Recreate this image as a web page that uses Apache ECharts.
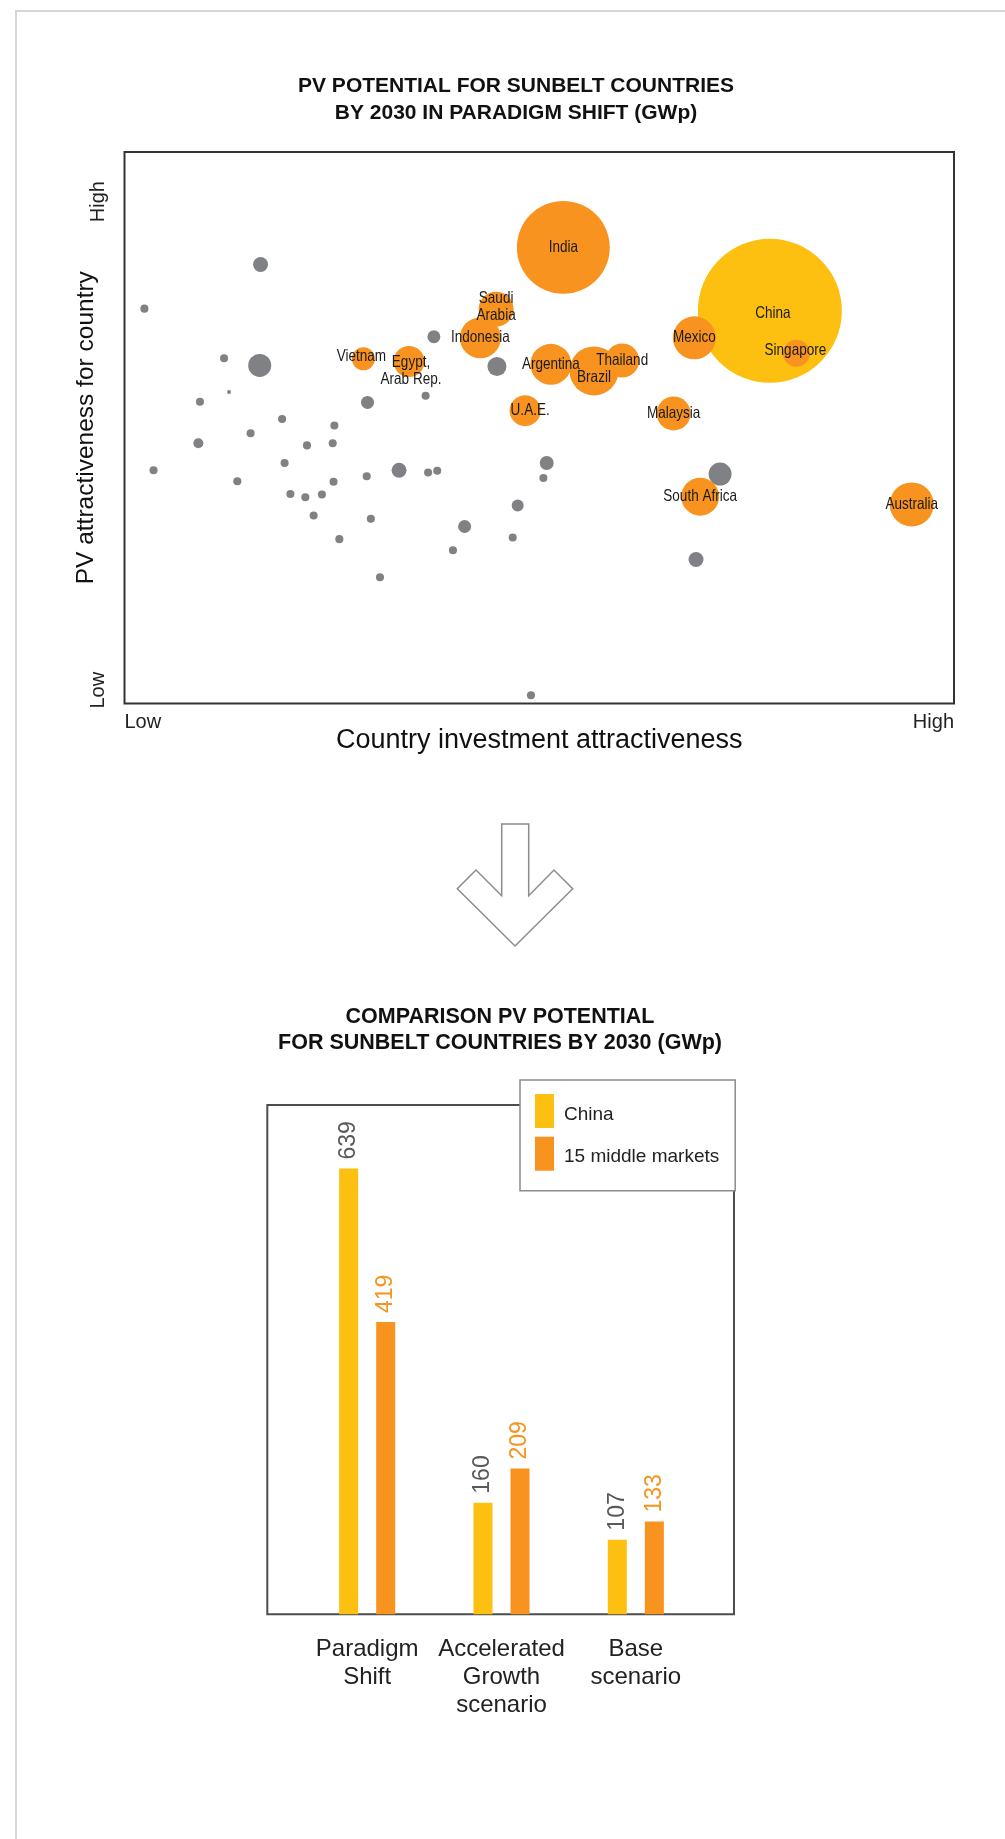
<!DOCTYPE html>
<html>
<head>
<meta charset="utf-8">
<title>PV potential for sunbelt countries by 2030</title>
<script src="https://cdn.jsdelivr.net/npm/echarts@6/dist/echarts.min.js"></script>
<style>
  html, body { margin: 0; padding: 0; background: #fff; overflow: hidden; }
  #frame {
    position: absolute; left: 15px; top: 10px; width: 1200px; height: 2000px;
    border-top: 2px solid #d6d6d6; border-left: 2px solid #d6d6d6;
  }
  #chart { position: absolute; left: 0; top: 0; width: 1005px; height: 1839px; }
</style>
</head>
<body>
<div id="frame"></div>
<div id="chart"></div>
<script>
// ---------- Bubble chart: 0 = low, 100 = high on both axes ----------
// Countries outside the 15 middle markets (unlabelled grey dots)
const otherX = [16.4, 2.4, 12.0, 16.3, 12.6, 9.1, 29.3, 36.3, 19.0, 25.3,
                15.2, 37.3, 44.9, 8.9, 22.0, 25.1, 3.5, 19.3, 13.6, 25.2,
                29.2, 33.1, 36.6, 37.7, 50.9, 50.5, 20.0, 21.8, 23.8, 22.8,
                29.7, 47.4, 41.0, 46.8, 25.9, 39.6, 30.8, 49.0, 71.8, 68.9];
const otherY = [79.6, 71.6, 62.6, 61.3, 56.5, 54.7, 54.6, 55.8, 51.6, 50.4,
                49.0, 66.5, 61.1, 47.2, 46.8, 47.2, 42.3, 43.6, 40.3, 40.2,
                41.2, 42.3, 41.9, 42.2, 43.6, 40.9, 38.0, 37.4, 37.9, 34.1,
                33.5, 35.9, 32.1, 30.1, 29.8, 27.8, 22.9, 1.5, 41.6, 26.1];
const otherPotential = [6.9, 2, 2, 16.3, 0.5, 2, 5.2, 2, 2, 2,
                        2, 5.2, 11.1, 3.1, 2, 2, 2, 2, 2, 2,
                        2, 6.9, 2, 2, 6, 2, 2, 2, 2, 2,
                        2, 4.4, 5.2, 2, 2, 2, 2, 2, 16.3, 6.9];

// China
const chinaName = 'China';
const chinaX = 77.8;
const chinaY = 71.2;
const chinaPotential = 639;

// Middle markets
const marketNames = ['India', 'Saudi\nArabia', 'Indonesia', 'Vietnam', 'Egypt,\nArab Rep.',
                     'Argentina', 'Brazil', 'Thailand', 'U.A.E.', 'Malaysia',
                     'Mexico', 'Singapore', 'South Africa', 'Australia'];
const marketX = [52.9, 44.8, 42.9, 28.8, 34.3, 51.4, 56.6, 60.0, 48.3, 66.2, 68.7, 81.0, 69.4, 94.9];
const marketY = [82.7, 71.5, 66.3, 62.5, 62.0, 61.5, 60.3, 62.2, 53.1, 52.6, 66.3, 63.5, 37.5, 36.1];
const marketPotential = [266, 37.7, 51.8, 16.3, 29.6, 51.8, 74, 35.6, 29.6, 35.6, 57, 22.5, 44.5, 59.7];

// Axis wording
const xAxisTitle = 'Country investment attractiveness';
const yAxisTitle = 'PV attractiveness for country';
const levelLow = 'Low';
const levelHigh = 'High';

// ---------- Bar chart ----------
const scenarios = ['Paradigm\nShift', 'Accelerated\nGrowth\nscenario', 'Base\nscenario'];
const chinaGWp = [639, 160, 107];
const middleGWp = [419, 209, 133];
const barSeriesNames = ['China', '15 middle markets'];

const topTitle = 'PV POTENTIAL FOR SUNBELT COUNTRIES\nBY 2030 IN PARADIGM SHIFT (GWp)';
const bottomTitle = 'COMPARISON PV POTENTIAL\nFOR SUNBELT COUNTRIES BY 2030 (GWp)';

// ---------- styling ----------
const YELLOW = '#fdc010';
const ORANGE = '#f7931e';
const GREY = '#808184';
const SANS = '"Liberation Sans", Arial, Helvetica, sans-serif';

// bubble area is proportional to potential
const bubbleScale = 144 / Math.sqrt(639);
const bubbleSize = (v) => bubbleScale * Math.sqrt(v[2]);

// small nudges for a few bubble labels
const labelNudge = {
  'China': [3, 3],
  'Egypt,\nArab Rep.': [2, 9],
  'Brazil': [0, 7],
  'U.A.E.': [5, 0],
  'Saudi\nArabia': [0, -2],
  'Vietnam': [-2, -2],
  'Singapore': [-1, -3]
};

const otherData = otherX.map((x, i) => [x, otherY[i], otherPotential[i]]);
const marketData = marketNames.map((n, i) => ({ name: n, value: [marketX[i], marketY[i], marketPotential[i]] }));
const chinaData = [{ name: chinaName, value: [chinaX, chinaY, chinaPotential] }];

// bubble labels: one per named country, set in a condensed face
const labelNames = [chinaName].concat(marketNames);
const labelData = [[chinaX, chinaY]].concat(marketX.map((x, i) => [x, marketY[i]]));

function renderBubbleLabel(params, api) {
  const pt = api.coord([api.value(0), api.value(1)]);
  const name = labelNames[params.dataIndex];
  const nudge = labelNudge[name] || [0, 0];
  return {
    type: 'text',
    x: pt[0] + nudge[0],
    y: pt[1] + nudge[1],
    scaleX: 0.82,
    style: {
      text: name, align: 'center', verticalAlign: 'middle',
      font: '16.5px ' + SANS, lineHeight: 17, fill: '#1a1a1a'
    }
  };
}

const chart = echarts.init(document.getElementById('chart'), null, { renderer: 'canvas' });

const option = {
  backgroundColor: 'transparent',
  animation: false,
  textStyle: { fontFamily: SANS },
  graphic: [
    {
      type: 'text', x: 516, y: 73, z: 10,
      style: { text: topTitle, align: 'center', verticalAlign: 'top',
               font: 'bold 21px ' + SANS, lineHeight: 27, fill: '#111' }
    },
    {
      type: 'text', x: 500, y: 1004, z: 10,
      style: { text: bottomTitle, align: 'center', verticalAlign: 'top',
               font: 'bold 21.5px ' + SANS, lineHeight: 26, fill: '#111' }
    },
    // downward arrow between the two charts
    {
      type: 'polygon', z: 10,
      shape: { points: [[501.7, 824], [528.7, 824], [528.7, 895.7], [554, 870], [572.7, 888.7],
                        [515, 946], [457.3, 888.7], [476, 870], [501.7, 895.7]] },
      style: { fill: '#fff', stroke: '#8c8c8c', lineWidth: 1.5 }
    },
    // frame of the bar chart
    {
      type: 'rect', z: 1,
      shape: { x: 267.3, y: 1105, width: 466.7, height: 509.3 },
      style: { fill: 'none', stroke: '#4d4d4d', lineWidth: 2 }
    }
  ],
  legend: {
    data: barSeriesNames,
    orient: 'vertical',
    left: 520, top: 1080,
    padding: [14, 16, 20, 15],
    itemWidth: 19, itemHeight: 34, itemGap: 8.7,
    icon: 'rect',
    backgroundColor: '#fff',
    borderColor: '#8c8c8c', borderWidth: 1.5,
    z: 20,
    selectedMode: false,
    formatter: (name) => '{t|' + name + '}',
    textStyle: {
      fontSize: 19, color: '#222',
      rich: { t: { fontSize: 19, color: '#222', padding: [7, 0, 0, 5] } }
    }
  },
  grid: [
    { left: 124.5, top: 152, width: 829.5, height: 551.5,
      show: true, borderColor: '#333', borderWidth: 2, backgroundColor: 'transparent' },
    { left: 300, top: 1105, width: 403, height: 509.3 }
  ],
  xAxis: [
    {
      gridIndex: 0, type: 'value', min: 0, max: 100, interval: 100,
      axisLine: { show: false }, axisTick: { show: false }, splitLine: { show: false },
      axisLabel: {
        formatter: (v) => (v === 0 ? levelLow : levelHigh),
        alignMinLabel: 'left', alignMaxLabel: 'right',
        fontSize: 20, color: '#222', margin: 9
      },
      name: xAxisTitle, nameLocation: 'middle', nameGap: 24, nameMoveOverlap: false,
      nameTextStyle: { fontSize: 27, color: '#111' }
    },
    {
      gridIndex: 1, type: 'category', data: scenarios,
      axisLine: { show: false }, axisTick: { show: false },
      axisLabel: { interval: 0, fontSize: 24, lineHeight: 28, color: '#222', margin: 21 }
    }
  ],
  yAxis: [
    {
      gridIndex: 0, type: 'value', min: 0, max: 100,
      axisLine: { show: false }, axisTick: { show: false }, splitLine: { show: false },
      axisLabel: {
        customValues: [2.4, 91],
        formatter: (v) => (v < 50 ? levelLow : levelHigh),
        rotate: 90, fontSize: 20, color: '#222', margin: 16
      },
      name: yAxisTitle, nameLocation: 'middle', nameGap: 26, nameRotate: 90, nameMoveOverlap: false,
      nameTextStyle: { fontSize: 24.5, color: '#111' }
    },
    { gridIndex: 1, type: 'value', min: 0, max: 730, show: false }
  ],
  series: [
    {
      name: 'Other sunbelt countries', type: 'scatter',
      xAxisIndex: 0, yAxisIndex: 0,
      data: otherData, symbolSize: bubbleSize,
      itemStyle: { color: GREY, opacity: 1 }, silent: true
    },
    {
      name: 'China potential', type: 'scatter',
      xAxisIndex: 0, yAxisIndex: 0,
      data: chinaData, symbolSize: bubbleSize,
      itemStyle: { color: YELLOW, opacity: 1 }, silent: true
    },
    {
      name: 'Middle market potential', type: 'scatter',
      xAxisIndex: 0, yAxisIndex: 0,
      data: marketData, symbolSize: bubbleSize,
      itemStyle: { color: ORANGE, opacity: 1 }, silent: true
    },
    {
      name: 'Country names', type: 'custom',
      xAxisIndex: 0, yAxisIndex: 0, z: 5, silent: true,
      data: labelData, renderItem: renderBubbleLabel
    },
    {
      name: barSeriesNames[0], type: 'bar', xAxisIndex: 1, yAxisIndex: 1,
      data: chinaGWp, barWidth: 19, barGap: '95%',
      itemStyle: { color: YELLOW },
      label: { show: true, position: 'top', rotate: 90, align: 'left', verticalAlign: 'middle',
               distance: 9, fontSize: 23, color: '#595959' }
    },
    {
      name: barSeriesNames[1], type: 'bar', xAxisIndex: 1, yAxisIndex: 1,
      data: middleGWp, barWidth: 19, barGap: '95%',
      itemStyle: { color: ORANGE },
      label: { show: true, position: 'top', rotate: 90, align: 'left', verticalAlign: 'middle',
               distance: 9, fontSize: 23, color: ORANGE }
    }
  ]
};

chart.setOption(option);
</script>
</body>
</html>
